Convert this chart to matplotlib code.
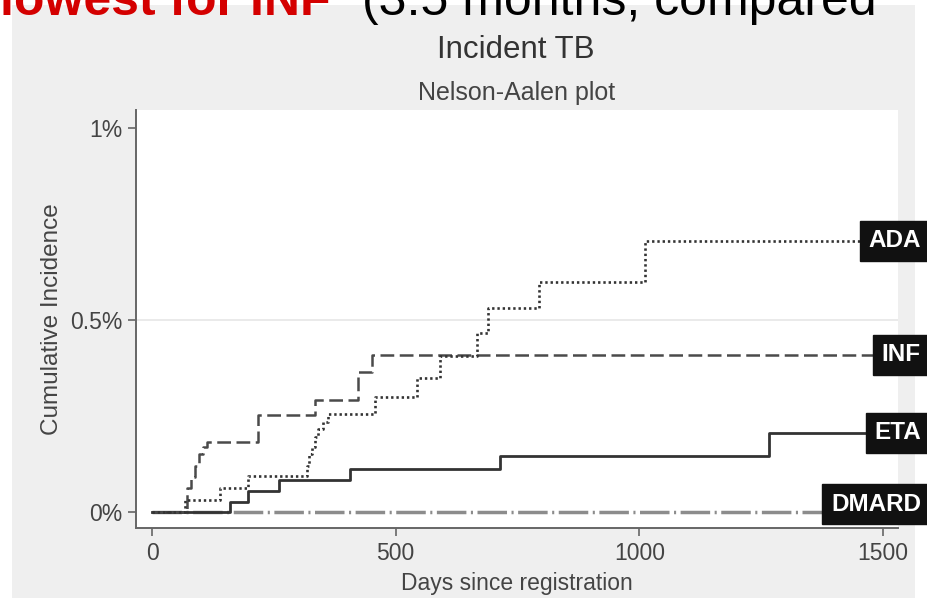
import matplotlib.pyplot as plt
import matplotlib.transforms as mtransforms
from matplotlib.patches import Rectangle

# step points (day, cumulative incidence in %)
ada_days = [0, 68, 140, 197, 318, 322, 328, 334, 340, 350, 362, 458, 544, 591, 667, 690, 794, 1012, 1500]
ada_vals = [0, 0.031, 0.062, 0.095, 0.12, 0.15, 0.17, 0.195, 0.215, 0.235, 0.255, 0.30, 0.35, 0.407, 0.466, 0.53, 0.60, 0.707, 0.707]

inf_days = [0, 72, 80, 88, 97, 105, 113, 218, 334, 423, 451, 1500]
inf_vals = [0, 0.0625, 0.09, 0.12, 0.15, 0.17, 0.183, 0.253, 0.292, 0.365, 0.409, 0.409]

eta_days = [0, 160, 197, 261, 406, 714, 1266, 1500]
eta_vals = [0, 0.026, 0.055, 0.083, 0.112, 0.145, 0.206, 0.206]

dmard_days = [0, 1500]
dmard_vals = [0, 0]

labels = ["ADA", "INF", "ETA", "DMARD"]

fig = plt.figure(figsize=(9.28, 5.98), dpi=100, facecolor="white")
W, H = 928.0, 598.0

# grey graph region of the screenshot
fig.patches.append(Rectangle((12 / W, 0), (915 - 12) / W, 1 - 5 / H,
                             transform=fig.transFigure, facecolor="#efefef",
                             edgecolor="none", zorder=-10))

# slide text cut off at the top
fig.text(0 / W, 1 - 15 / H, "lowest for INF", color="#d40000", fontsize=36,
         fontweight="bold", family="Liberation Sans", ha="left", va="baseline", zorder=5)
fig.text(362 / W, 1 - 15 / H, "(3.5 months, compared", color="black", fontsize=36,
         family="Liberation Sans", ha="left", va="baseline", zorder=5)

ax = fig.add_axes([136 / W, 1 - 528 / H, (898 - 136) / W, (528 - 110) / H])
ax.set_facecolor("white")

ax.step(dmard_days, dmard_vals, where="post", color="#8c8c8c", lw=2.5,
        dashes=(8.5, 1.3, 0.6, 1.3), zorder=2)
ax.step(eta_days, eta_vals, where="post", color="#333333", lw=2.0, zorder=3)
ax.step(inf_days, inf_vals, where="post", color="#4a4a4a", lw=1.8,
        dashes=(5.5, 2.2), zorder=3)
ax.step(ada_days, ada_vals, where="post", color="#333333", lw=1.9,
        dashes=(0.9, 1.1), zorder=4)

ax.set_xlim(-33, 1531)
ax.set_ylim(-0.0417, 1.047)
ax.set_xticks([0, 500, 1000, 1500])
ax.set_yticks([0, 0.5, 1])
ax.set_yticklabels(["0%", "0.5%", "1%"])
ax.axhline(0.5, color="#e8e8e8", lw=1.3, zorder=1)

for s in ["top", "right"]:
    ax.spines[s].set_visible(False)
for s in ["left", "bottom"]:
    ax.spines[s].set_color("#666666")
    ax.spines[s].set_linewidth(1.4)
ax.tick_params(direction="out", length=6, width=1.2, color="#666666",
               labelsize=16.5, labelcolor="#444444", pad=4)
for t in ax.get_xticklabels() + ax.get_yticklabels():
    t.set_family("Liberation Sans")

ax.set_xlabel("Days since registration", fontsize=16.5, color="#444444",
              family="Liberation Sans", labelpad=5)
ax.set_ylabel("Cumulative Incidence", fontsize=17.5, color="#444444",
              family="Liberation Sans", labelpad=5)

fig.text(516 / W, 1 - 50 / H, "Incident TB", fontsize=22.5, color="#333333",
         family="Liberation Sans", ha="center", va="center")
fig.text(517 / W, 1 - 93 / H, "Nelson-Aalen plot", fontsize=18, color="#444444",
         family="Liberation Sans", ha="center", va="center")

# end-of-line labels in black boxes
trans = mtransforms.blended_transform_factory(fig.transFigure, ax.transData)
ends = [ada_vals[-1], inf_vals[-1], eta_vals[-1], dmard_vals[-1] + 0.02]
for lab, yv in zip(labels, ends):
    fig.text(921 / W, yv, lab, transform=trans, ha="right", va="center",
             fontsize=17.5, fontweight="bold", color="white",
             family="Liberation Sans",
             bbox=dict(boxstyle="square,pad=0.35", fc="#111111", ec="#111111"),
             zorder=10)

fig.savefig("out.png", dpi=100, facecolor=fig.get_facecolor())
